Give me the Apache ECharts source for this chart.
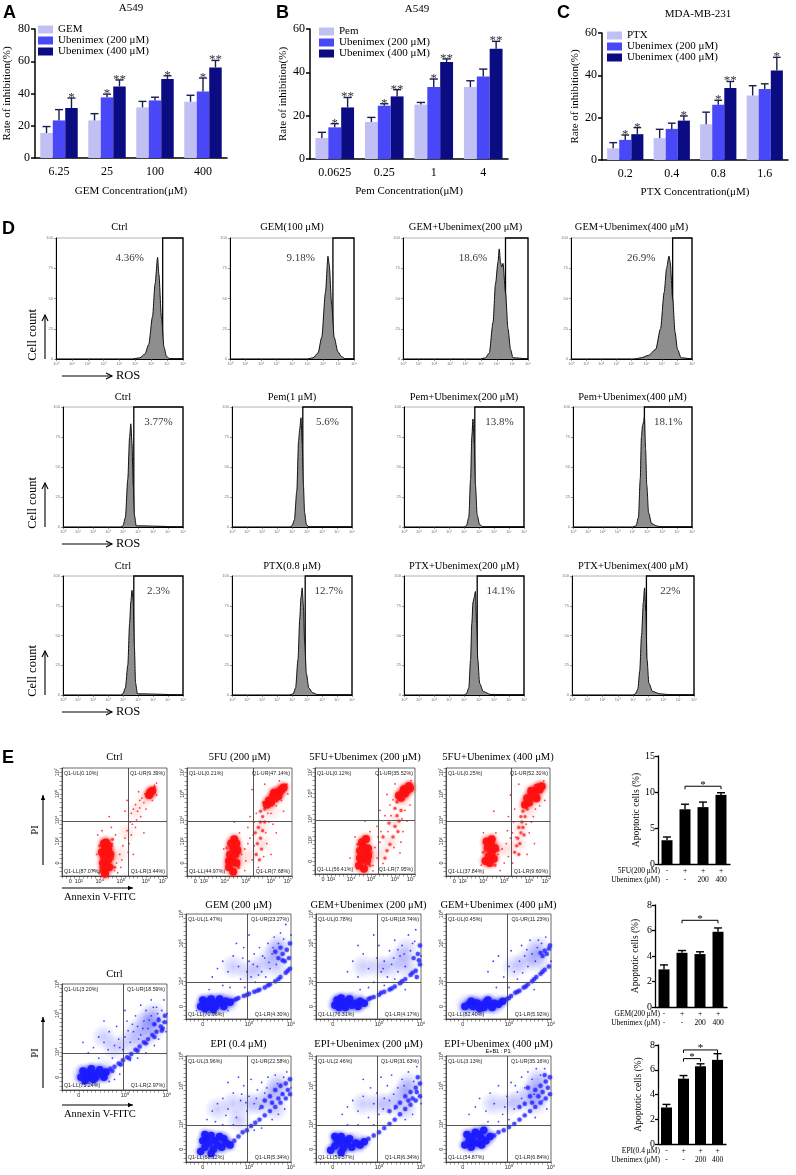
<!DOCTYPE html>
<html>
<head>
<meta charset="utf-8">
<script src="https://cdn.jsdelivr.net/npm/echarts@6.0.0/dist/echarts.min.js"></script>
<style>
  html, body { margin: 0; padding: 0; background: #fff; }
  #chart { width: 796px; height: 1175px; }
</style>
</head>
<body>
<div id="chart"></div>
<script>
// ---------- A / B / C : rate of inhibition ----------
const concA = ['6.25', '25', '100', '400'];
const gemA = [15.5, 23.3, 31.4, 34.9];
const gemAErr = [4, 4.2, 3.7, 4];
const ubx200A = [23.3, 37.6, 35.7, 41.3];
const ubx200AErr = [6.7, 2, 2, 8.3];
const ubx400A = [31, 44.4, 49, 56.2];
const ubx400AErr = [6.2, 4, 2, 4.3];
const starsA = [['', '', '*'], ['', '*', '**'], ['', '', '*'], ['', '*', '**']];

const concB = ['0.0625', '0.25', '1', '4'];
const pemB = [9.7, 17.1, 25.1, 33.2];
const pemBErr = [2.6, 2.1, 1, 2.9];
const ubx200B = [14.6, 24.6, 33.2, 38.1];
const ubx200BErr = [1.7, 0.9, 3.7, 3.4];
const ubx400B = [23.8, 28.9, 44.8, 50.9];
const ubx400BErr = [4.6, 3.1, 1.4, 3.4];
const starsB = [['', '*', '**'], ['', '*', '**'], ['', '*', '**'], ['', '', '**']];

const concC = ['0.2', '0.4', '0.8', '1.6'];
const ptxC = [5.5, 10.3, 16.9, 30.5];
const ptxCErr = [2.7, 4.2, 5.7, 4.6];
const ubx200C = [9.5, 14.7, 26.1, 33.5];
const ubx200CErr = [2.3, 2.7, 2.1, 2.5];
const ubx400C = [12.2, 18.6, 34, 42.3];
const ubx400CErr = [3.1, 2.2, 3.1, 6.2];
const starsC = [['', '*', '*'], ['', '', '*'], ['', '*', '**'], ['', '', '*']];

// ---------- D : ROS histograms (x: channel 0-100, y: % of box height) ----------
const rosTitles = [
  ['Ctrl', 'GEM(100 μM)', 'GEM+Ubenimex(200 μM)', 'GEM+Ubenimex(400 μM)'],
  ['Ctrl', 'Pem(1 μM)', 'Pem+Ubenimex(200 μM)', 'Pem+Ubenimex(400 μM)'],
  ['Ctrl', 'PTX(0.8 μM)', 'PTX+Ubenimex(200 μM)', 'PTX+Ubenimex(400 μM)']
];
const rosPct = [['4.36%', '9.18%', '18.6%', '26.9%'], ['3.77%', '5.6%', '13.8%', '18.1%'], ['2.3%', '12.7%', '14.1%', '22%']];
const rosGate = [[84, 83, 82, 84], [59, 59, 59, 60], [59, 61, 61, 61]];
const rosGemCtrl = [[0, 0], [60, 0], [66, 1], [70, 4], [73, 12], [76, 35], [78, 62], [80, 84], [81, 70], [83, 35], [85, 10], [87, 2], [90, 0], [100, 0]];
const rosGem = [[0, 0], [62, 0], [67, 1], [71, 5], [74, 18], [77, 55], [79, 85], [80, 78], [82, 45], [84, 18], [87, 6], [90, 2], [93, 0], [100, 0]];
const rosGemU200 = [[0, 0], [62, 0], [66, 1], [69, 5], [72, 30], [74, 62], [76, 80], [77, 91], [78, 80], [79, 76], [80, 79], [82, 55], [84, 25], [86, 8], [88, 1], [100, 0]];
const rosGemU400 = [[0, 0], [52, 0], [58, 1], [64, 3], [70, 8], [74, 25], [77, 55], [79, 75], [81, 85], [82, 80], [84, 50], [86, 22], [88, 8], [91, 1], [100, 0]];
const rosPemCtrl = [[0, 0], [48, 0], [50, 1], [52, 8], [54, 40], [55.5, 75], [56.5, 86], [57.5, 70], [58.5, 35], [59.5, 10], [61, 1], [100, 0]];
const rosPem = [[0, 0], [48, 0], [50, 1], [52, 6], [54, 30], [55.5, 72], [56.5, 82], [57.5, 91], [58.5, 70], [59.5, 35], [60.5, 12], [62, 2], [64, 0], [100, 0]];
const rosPemU200 = [[0, 0], [50, 0], [52, 1], [54, 8], [55.5, 40], [56.5, 75], [57.5, 90], [58.5, 70], [59.5, 35], [61, 10], [63, 2], [66, 0], [100, 0]];
const rosPemU400 = [[0, 0], [50, 0], [53, 1], [55, 8], [56.5, 40], [57.5, 75], [58.5, 85], [59.5, 88], [60, 92], [61, 65], [62, 35], [63.5, 12], [66, 3], [70, 1], [74, 0], [100, 0]];
const rosPtxCtrl = [[0, 0], [48, 0], [50, 1], [52, 6], [54, 25], [55.5, 60], [56.5, 78], [57.5, 88], [58.5, 80], [59.5, 40], [60.5, 10], [62, 1], [100, 0]];
const rosPtx = [[0, 0], [48, 0], [51, 1], [53, 6], [55, 30], [56.5, 65], [57.5, 82], [58.5, 90], [59.5, 75], [60.5, 45], [62, 18], [64, 6], [67, 2], [72, 0], [100, 0]];
const rosPtxU200 = [[0, 0], [50, 0], [52, 1], [54, 6], [55.5, 30], [56.5, 60], [57.5, 78], [58.5, 82], [59.5, 87], [60.5, 60], [61.5, 30], [63, 10], [66, 3], [72, 0.5], [100, 0]];
const rosPtxU400 = [[0, 0], [50, 0], [52, 1], [54, 5], [55.5, 20], [57, 50], [58.5, 78], [59.5, 90], [60.5, 70], [61.5, 30], [63, 10], [66, 3], [72, 1], [80, 0.3], [100, 0]];
const rosCurves = [[rosGemCtrl, rosGem, rosGemU200, rosGemU400], [rosPemCtrl, rosPem, rosPemU200, rosPemU400], [rosPtxCtrl, rosPtx, rosPtxU200, rosPtxU400]];

// ---------- E : Annexin V / PI dot plots (axis units 0-100) ----------
const redXTicks = [[8, '0'], [16, '10²'], [36, '10⁴'], [56, '10⁵'], [80, '10⁶'], [96, '10⁷']];
const redYTicks = [[12, '0'], [32, '10²'], [52, '10⁴'], [76, '10⁶'], [96, '10⁷']];
const blueXTicks = [[16, '0'], [60, '10⁵'], [100, '10⁶']];
const blueYTicks = [[12, '0'], [36, '10⁴'], [72, '10⁵'], [100, '10⁶']];
const redGate = [63, 51];
const blueGate = [58, 35];

const fuTitles = ['Ctrl', '5FU (200 μM)', '5FU+Ubenimex (200 μM)', '5FU+Ubenimex (400 μM)'];
const fuQuad = [[0.10, 9.39, 87.07, 3.44], [0.21, 47.14, 44.97, 7.68], [0.12, 35.52, 56.41, 7.95], [0.25, 52.31, 37.84, 9.60]];
const fuCtrlCore = [[40, 5], [42, 10], [44, 15], [40, 18], [43, 22], [41, 26], [44, 28], [39, 12], [45, 8], [42, 31], [38, 22], [46, 20], [41, 2], [44, 24], [40, 30], [84, 77], [86, 79], [83, 75]];
const fuCtrlMid = [[87, 80], [82, 74], [88, 82], [50, 8], [48, 16], [47, 28], [37, 8], [36, 28], [48, 34]];
const fuCtrlHaze = [[55, 20], [62, 40], [70, 60], [78, 70], [48, 15], [42, 18]];
const fuCtrlDots = [[50, 5], [52, 12], [48, 30], [55, 20], [58, 28], [60, 35], [62, 42], [65, 50], [66, 58], [68, 62], [70, 66], [72, 60], [74, 70], [76, 72], [78, 68], [80, 74], [82, 80], [88, 84], [90, 86], [75, 55], [70, 45], [64, 30], [56, 8], [34, 38], [38, 42], [47, 45], [62, 70], [86, 70], [68, 20], [78, 40], [30, 5], [35, 3], [90, 75], [73, 78], [60, 60], [45, 55], [80, 62], [66, 38], [71, 52], [63, 22], [53, 3], [57, 15], [67, 48], [74, 63], [79, 76], [84, 72], [33, 20], [51, 38]];
const fu5Core = [[40, 8], [43, 14], [46, 20], [44, 26], [41, 20], [47, 12], [42, 30], [45, 34], [48, 24], [44, 4], [40, 14], [47, 30], [78, 70], [82, 74], [86, 77], [90, 80], [84, 72], [80, 68], [88, 78], [92, 82], [76, 66], [83, 77], [87, 74]];
const fu5Mid = [[70, 60], [72, 55], [70, 50], [68, 45], [72, 42], [70, 35], [67, 30], [71, 25], [65, 40], [74, 62], [66, 20], [69, 15], [74, 50], [73, 68], [94, 84], [50, 22], [38, 26], [49, 8]];
const fu5Haze = [[70, 45], [72, 30], [80, 60], [60, 20], [85, 75], [52, 15], [44, 18]];
const fu5Dots = [[50, 10], [52, 20], [55, 25], [58, 30], [60, 35], [62, 15], [64, 50], [60, 55], [75, 40], [78, 50], [80, 58], [85, 65], [90, 70], [95, 85], [74, 85], [88, 88], [50, 40], [35, 25], [38, 10], [55, 5], [80, 20], [85, 40], [62, 80], [45, 50], [92, 60], [66, 58], [64, 28], [76, 30], [82, 48], [58, 45], [68, 8], [73, 18], [77, 58], [63, 38], [56, 14], [96, 76]];
const fu200Core = [[44, 8], [47, 14], [50, 20], [48, 26], [45, 22], [52, 12], [47, 30], [51, 33], [53, 24], [49, 5], [45, 15], [53, 17], [84, 74], [88, 77], [92, 79], [95, 81], [86, 72], [90, 76], [94, 83], [89, 80]];
const fu200Mid = [[80, 62], [82, 55], [84, 50], [80, 45], [83, 40], [78, 35], [75, 28], [72, 22], [70, 15], [86, 60], [68, 35], [74, 48], [82, 68], [56, 20], [43, 28], [55, 8]];
const fu200Haze = [[80, 50], [75, 30], [65, 20], [88, 70], [57, 15], [49, 18]];
const fu200Dots = [[58, 8], [62, 15], [60, 25], [65, 30], [66, 40], [62, 45], [70, 55], [75, 65], [78, 70], [72, 75], [90, 60], [88, 40], [92, 50], [55, 40], [40, 35], [42, 5], [58, 3], [85, 20], [95, 65], [96, 88], [80, 85], [65, 60], [50, 50], [35, 15], [76, 55], [86, 30], [68, 10], [73, 40], [79, 25], [63, 35], [87, 52]];
const fu400Core = [[38, 14], [41, 18], [44, 22], [40, 26], [43, 30], [46, 16], [42, 12], [47, 26], [39, 32], [44, 34], [78, 72], [82, 75], [86, 78], [90, 80], [80, 68], [84, 74], [88, 82], [76, 66], [92, 83], [82, 79], [87, 72]];
const fu400Mid = [[74, 60], [72, 55], [73, 50], [70, 45], [72, 40], [69, 35], [71, 30], [74, 45], [76, 55], [68, 28], [66, 22], [75, 38], [78, 62], [70, 20], [50, 24], [36, 22], [47, 10]];
const fu400Haze = [[72, 45], [70, 30], [80, 60], [60, 25], [86, 76], [50, 25], [42, 22]];
const fu400Dots = [[50, 20], [54, 25], [58, 30], [60, 18], [56, 12], [62, 35], [64, 40], [65, 50], [60, 55], [80, 40], [84, 55], [90, 65], [94, 88], [70, 85], [85, 30], [36, 40], [34, 10], [48, 40], [52, 5], [78, 20], [62, 75], [95, 70], [46, 60], [66, 62], [82, 50], [64, 12], [77, 48], [67, 36], [59, 42], [86, 62]];

const gemTitles = ['GEM (200 μM)', 'GEM+Ubenimex (200 μM)', 'GEM+Ubenimex (400 μM)'];
const gemQuad = [[1.47, 23.27, 70.96, 4.30], [0.78, 18.74, 76.31, 4.17], [0.45, 11.23, 82.40, 5.92]];
const ctrlQuad = [3.20, 18.59, 75.24, 2.97];
const epiTitles = ['EPI (0.4 μM)', 'EPI+Ubenimex (200 μM)', 'EPI+Ubenimex (400 μM)'];
const epiQuad = [[3.96, 22.58, 68.12, 5.34], [2.46, 31.63, 59.57, 6.34], [3.13, 35.16, 54.87, 6.84]];

const ctrlCore = [[18, 12], [22, 15], [26, 17], [30, 14], [34, 16], [24, 11], [28, 20], [32, 12], [38, 15], [20, 18], [36, 19], [42, 17], [22, 9], [30, 10], [40, 12], [26, 13]];
const ctrlMid = [[46, 20], [50, 22], [54, 25], [58, 28], [62, 31], [66, 34], [70, 38], [74, 41], [78, 45], [82, 48], [86, 52], [90, 55], [94, 60], [98, 64], [98, 70], [96, 58], [92, 66], [88, 62], [48, 18], [56, 24], [64, 30], [72, 37], [80, 44], [88, 50], [95, 56]];
const ctrlHaze = [[70, 55], [78, 62], [82, 68], [88, 72], [62, 45], [76, 48], [86, 55], [86, 62], [50, 40], [40, 50], [30, 15], [40, 18], [20, 14]];
const ctrlDots = [[30, 40], [35, 50], [40, 45], [45, 55], [50, 42], [52, 60], [48, 30], [55, 40], [60, 50], [62, 65], [65, 45], [68, 55], [70, 70], [72, 60], [75, 52], [78, 65], [80, 75], [82, 58], [85, 70], [88, 62], [90, 78], [92, 68], [95, 75], [97, 85], [85, 85], [75, 80], [60, 75], [40, 65], [25, 35], [20, 45], [58, 38], [65, 28], [72, 30], [80, 35], [88, 42], [92, 48], [55, 15], [50, 10], [45, 8], [35, 30], [100, 72], [99, 55], [67, 62], [77, 58], [83, 66], [91, 72], [96, 64], [73, 48], [63, 56], [87, 78], [44, 38], [54, 48]];
const gemCore = [[14, 12], [18, 15], [22, 17], [26, 14], [30, 16], [20, 11], [24, 19], [28, 12], [34, 15], [38, 17], [16, 18], [32, 19], [42, 16], [26, 9], [36, 12], [18, 10]];
const gemMid = [[46, 18], [50, 20], [55, 22], [60, 24], [65, 26], [70, 28], [75, 30], [80, 33], [85, 36], [90, 40], [95, 44], [99, 48], [88, 58], [92, 62], [96, 66], [99, 72], [85, 64], [94, 55], [98, 58], [90, 68], [48, 19], [58, 23], [68, 27], [78, 32], [88, 38], [97, 46], [92, 56]];
const gemHaze = [[70, 50], [80, 58], [86, 65], [88, 70], [60, 45], [45, 50], [86, 50], [30, 15], [20, 14], [40, 16]];
const gemDots = [[25, 40], [30, 48], [35, 55], [40, 45], [45, 60], [50, 50], [52, 38], [55, 68], [58, 45], [60, 55], [62, 40], [65, 62], [68, 50], [70, 68], [72, 45], [75, 58], [78, 72], [80, 48], [82, 62], [84, 78], [86, 52], [90, 82], [95, 90], [76, 40], [66, 35], [56, 30], [42, 30], [35, 32], [60, 80], [48, 72], [22, 28], [10, 8], [40, 8], [100, 80], [73, 60], [83, 68], [93, 76], [64, 52], [54, 58], [88, 72], [79, 54], [69, 42]];
const gem200Core = [[18, 13], [22, 16], [26, 14], [30, 17], [34, 13], [20, 18], [28, 11], [38, 15], [42, 17], [24, 20], [32, 19], [46, 15], [40, 12], [22, 11]];
const gem200Mid = [[50, 19], [55, 21], [60, 23], [65, 26], [70, 28], [75, 31], [80, 34], [85, 38], [90, 42], [95, 46], [99, 52], [97, 62], [99, 70], [93, 58], [96, 40], [52, 20], [62, 25], [72, 29], [82, 36], [92, 44], [98, 56]];
const gem200Haze = [[70, 50], [80, 58], [86, 66], [60, 50], [45, 50], [86, 50], [30, 15], [38, 16], [22, 14]];
const gem200Dots = [[30, 45], [35, 55], [40, 40], [45, 62], [50, 48], [55, 35], [58, 58], [60, 70], [62, 45], [65, 55], [68, 40], [70, 65], [72, 52], [75, 75], [78, 45], [80, 60], [82, 70], [85, 50], [88, 80], [90, 65], [92, 72], [95, 85], [50, 30], [42, 28], [65, 32], [75, 38], [85, 28], [40, 70], [55, 80], [100, 60], [74, 58], [84, 62], [94, 74], [64, 48], [78, 66]];
const gem400Core = [[18, 12], [22, 14], [26, 12], [30, 15], [34, 13], [38, 16], [42, 13], [46, 15], [50, 14], [24, 17], [32, 10], [40, 18], [54, 17], [28, 15], [36, 11], [44, 11]];
const gem400Mid = [[58, 19], [62, 22], [66, 25], [70, 27], [74, 30], [78, 33], [82, 36], [86, 40], [90, 43], [94, 47], [98, 50], [90, 63], [94, 65], [98, 67], [99, 70], [92, 60], [60, 20], [68, 26], [76, 31], [84, 38], [92, 45], [96, 62]];
const gem400Haze = [[75, 55], [84, 62], [88, 68], [65, 50], [88, 55], [30, 14], [45, 14], [20, 13]];
const gem400Dots = [[40, 45], [45, 55], [50, 60], [55, 40], [60, 50], [62, 65], [65, 45], [70, 55], [72, 70], [75, 60], [78, 50], [80, 75], [82, 62], [85, 55], [88, 75], [95, 78], [68, 38], [48, 30], [84, 28], [60, 30], [100, 55], [77, 66], [87, 68], [73, 44], [91, 72]];
const epiCore = [[14, 10], [18, 14], [22, 18], [26, 12], [30, 16], [20, 22], [24, 25], [28, 20], [16, 20], [34, 14], [38, 18], [32, 24], [42, 16], [24, 8], [18, 26], [36, 22]];
const epiMid = [[46, 20], [50, 24], [54, 28], [58, 30], [62, 34], [66, 37], [70, 40], [75, 44], [80, 48], [85, 52], [90, 56], [95, 60], [99, 64], [80, 62], [85, 68], [90, 72], [95, 74], [99, 78], [75, 58], [88, 60], [97, 68], [82, 56], [92, 64], [72, 52]];
const epiHaze = [[70, 55], [80, 62], [86, 68], [88, 74], [60, 55], [45, 55], [30, 50], [85, 50], [25, 16], [35, 18], [50, 40]];
const epiDots = [[20, 40], [25, 48], [30, 55], [35, 60], [40, 50], [45, 65], [48, 42], [52, 58], [55, 72], [58, 48], [60, 62], [62, 78], [65, 55], [68, 68], [70, 50], [72, 75], [75, 65], [78, 80], [82, 55], [85, 82], [88, 45], [92, 65], [96, 85], [45, 35], [35, 35], [28, 38], [50, 80], [40, 75], [65, 30], [72, 32], [82, 40], [94, 50], [100, 70], [77, 70], [87, 74], [67, 60], [57, 56], [93, 80], [38, 44], [53, 64]];
const epi200Core = [[14, 11], [18, 15], [22, 18], [26, 13], [30, 17], [20, 21], [24, 24], [28, 20], [34, 14], [38, 18], [32, 22], [42, 16], [46, 19], [18, 24], [24, 9]];
const epi200Mid = [[50, 22], [55, 25], [60, 28], [65, 32], [70, 36], [75, 40], [80, 45], [85, 50], [90, 54], [95, 58], [99, 62], [85, 62], [90, 66], [95, 70], [99, 74], [80, 56], [92, 60], [97, 80], [70, 48], [88, 58], [96, 66], [76, 52]];
const epi200Haze = [[70, 55], [80, 62], [86, 68], [88, 74], [60, 55], [45, 55], [85, 50], [25, 16], [38, 18]];
const epi200Dots = [[25, 45], [30, 52], [35, 58], [40, 48], [45, 62], [50, 42], [52, 70], [55, 55], [58, 65], [60, 45], [62, 80], [65, 60], [68, 72], [70, 58], [72, 82], [75, 50], [78, 70], [82, 78], [85, 40], [88, 85], [92, 45], [96, 90], [40, 35], [55, 35], [45, 78], [30, 35], [100, 55], [74, 64], [84, 72], [64, 50], [93, 76]];
const epi400Core = [[18, 16], [22, 20], [26, 24], [30, 18], [34, 22], [24, 14], [28, 28], [32, 26], [20, 26], [38, 20], [42, 24], [36, 30], [26, 18], [34, 16]];
const epi400Mid = [[46, 25], [50, 28], [55, 30], [60, 33], [65, 36], [70, 40], [75, 44], [80, 48], [85, 52], [90, 56], [95, 60], [99, 64], [75, 55], [80, 62], [85, 68], [90, 72], [95, 76], [99, 80], [88, 62], [92, 66], [97, 70], [70, 52], [82, 56], [94, 82], [78, 70]];
const epi400Haze = [[70, 58], [80, 65], [86, 72], [88, 78], [60, 55], [45, 55], [85, 55], [88, 62], [26, 22], [36, 24]];
const epi400Dots = [[22, 45], [28, 52], [32, 60], [38, 48], [42, 65], [46, 55], [50, 72], [54, 45], [58, 62], [62, 75], [65, 50], [68, 66], [72, 80], [75, 70], [78, 85], [82, 78], [86, 88], [90, 82], [94, 88], [60, 40], [50, 38], [40, 38], [96, 50], [85, 42], [72, 60], [66, 72], [84, 64], [56, 52], [92, 58]];

// ---------- E : apoptotic cells ----------
const apoDrugRow = ['-', '+', '+', '+'];
const apoUbxRow = ['-', '-', '200', '400'];
const apoFu = [3.3, 7.6, 7.9, 9.6];
const apoFuErr = [0.45, 0.7, 0.7, 0.3];
const apoFuBrackets = [[1, 3, 10.8]];
const apoGem = [2.95, 4.25, 4.15, 5.9];
const apoGemErr = [0.35, 0.18, 0.18, 0.3];
const apoGemBrackets = [[1, 3, 6.8]];
const apoEpi = [2.95, 5.28, 6.28, 6.8];
const apoEpiErr = [0.25, 0.25, 0.2, 0.5];
const apoEpiBrackets = [[1, 2, 6.9], [1, 3, 7.6]];

// ---------- build ----------
const SERIF = '"Liberation Serif", "Times New Roman", serif';
const SANS = '"Liberation Sans", Arial, sans-serif';
const barColors = ['#c0c0f4', '#4848f8', '#0c0c82'];
const grids = [], xAxes = [], yAxes = [], series = [], legends = [], graphics = [];

function addGrid(left, top, width, height, extra) {
  grids.push(Object.assign({ left, top, width, height }, extra || {}));
  return grids.length - 1;
}
function txt(x, y, text, size, opts) {
  const o = opts || {};
  graphics.push({
    type: 'text', x, y, rotation: o.rot || 0, z: 100,
    style: {
      text, fontSize: size, fontFamily: o.font || SERIF, fontWeight: o.weight || 'normal',
      fill: o.color || '#000', align: o.align || 'center', verticalAlign: o.va || 'middle'
    }
  });
}
function arrow(x1, y1, x2, y2, filled) {
  const a = Math.atan2(y2 - y1, x2 - x1), L = filled ? 5 : 6, W = filled ? 2.2 : 3;
  const p1 = [x2 - L * Math.cos(a) + W * Math.sin(a), y2 - L * Math.sin(a) - W * Math.cos(a)];
  const p2 = [x2 - L * Math.cos(a) - W * Math.sin(a), y2 - L * Math.sin(a) + W * Math.cos(a)];
  graphics.push({ type: 'line', shape: { x1, y1, x2, y2 }, style: { stroke: '#000', lineWidth: 1.1 } });
  if (filled) graphics.push({ type: 'polygon', shape: { points: [p1, [x2, y2], p2] }, style: { fill: '#000' } });
  else graphics.push({ type: 'polyline', shape: { points: [p1, [x2, y2], p2] }, style: { stroke: '#000', lineWidth: 1.1, fill: null } });
}

function errorBars(g, vals, errs, stars, s, n, gap, color, capHalf) {
  series.push({
    type: 'custom', xAxisIndex: g, yAxisIndex: g, z: 5, silent: true,
    data: vals.map((v, i) => [i, v, errs[i]]),
    renderItem: (params, api) => {
      const i = api.value(0), v = api.value(1), e = api.value(2);
      const band = api.size([1, 0])[0];
      const used = band * (1 - gap);
      const bw = used / n;
      const cx = api.coord([i, 0])[0] - used / 2 + bw * (s + 0.5);
      const yb = api.coord([i, v])[1], yt = api.coord([i, v + e])[1];
      const cap = capHalf || bw * 0.32;
      const kids = [
        { type: 'line', shape: { x1: cx, y1: yb, x2: cx, y2: yt }, style: { stroke: color, lineWidth: 1.4 } },
        { type: 'line', shape: { x1: cx - cap, y1: yt, x2: cx + cap, y2: yt }, style: { stroke: color, lineWidth: 1.4 } }
      ];
      const st = stars ? stars[params.dataIndex][s] : '';
      if (st) kids.push({ type: 'text', x: cx, y: yt + 6, style: { text: st, fontFamily: SERIF, fontSize: 13, fill: '#333', align: 'center', verticalAlign: 'bottom' } });
      return { type: 'group', children: kids };
    }
  });
}

function inhibitionPanel(p) {
  const g = addGrid(p.rect[0], p.rect[1], p.rect[2], p.rect[3]);
  xAxes.push({
    gridIndex: g, type: 'category', data: p.cats,
    axisLine: { lineStyle: { color: '#000', width: 1.5 } }, axisTick: { show: false },
    axisLabel: { color: '#000', fontFamily: SERIF, fontSize: 12, margin: 8 },
    name: p.xName, nameLocation: 'middle', nameGap: p.xGap,
    nameTextStyle: { color: '#000', fontFamily: SERIF, fontSize: 11 }
  });
  yAxes.push({
    gridIndex: g, type: 'value', min: 0, max: p.max, interval: 20, splitLine: { show: false },
    axisLine: { show: true, lineStyle: { color: '#000', width: 1.5 } },
    axisTick: { show: true, length: 4, lineStyle: { color: '#000', width: 1.5 } },
    axisLabel: { color: '#000', fontFamily: SERIF, fontSize: 12, margin: 5 },
    name: 'Rate of inhibition(%)', nameLocation: 'middle', nameGap: p.yGap,
    nameTextStyle: { color: '#000', fontFamily: SERIF, fontSize: 11 }
  });
  const names = [p.drug, 'Ubenimex (200 μM)', 'Ubenimex (400 μM)'];
  p.vals.forEach((v, s) => {
    series.push({
      type: 'bar', name: names[s], xAxisIndex: g, yAxisIndex: g, data: v,
      barGap: '0%', barCategoryGap: '22%', itemStyle: { color: barColors[s] }, z: 2
    });
  });
  p.vals.forEach((v, s) => errorBars(g, v, p.errs[s], p.stars, s, 3, 0.22, '#1c1c50'));
  legends.push({
    left: p.legend[0], top: p.legend[1], orient: 'vertical', itemGap: 0, itemWidth: 15, itemHeight: 8,
    icon: 'rect', selectedMode: false, padding: 0, data: names,
    textStyle: { color: '#000', fontFamily: SERIF, fontSize: 11, padding: [0, 0, 0, 0] }
  });
  txt(p.title[0], p.title[1], p.title[2], 11);
}

inhibitionPanel({
  rect: [35, 29, 192, 129], cats: concA, max: 80, drug: 'GEM',
  vals: [gemA, ubx200A, ubx400A], errs: [gemAErr, ubx200AErr, ubx400AErr], stars: starsA,
  xName: 'GEM Concentration(μM)', xGap: 28, yGap: 22, legend: [38, 24], title: [131, 8, 'A549']
});
inhibitionPanel({
  rect: [310, 29, 198, 130], cats: concB, max: 60, drug: 'Pem',
  vals: [pemB, ubx200B, ubx400B], errs: [pemBErr, ubx200BErr, ubx400BErr], stars: starsB,
  xName: 'Pem Concentration(μM)', xGap: 27, yGap: 14, legend: [319, 26], title: [417, 9, 'A549']
});
inhibitionPanel({
  rect: [602, 33, 186, 127], cats: concC, max: 60, drug: 'PTX',
  vals: [ptxC, ubx200C, ubx400C], errs: [ptxCErr, ubx200CErr, ubx400CErr], stars: starsC,
  xName: 'PTX Concentration(μM)', xGap: 27, yGap: 19, legend: [607, 30], title: [698, 14, 'MDA-MB-231']
});

// D histograms
const sup = ['⁰', '¹', '²', '³', '⁴', '⁵', '⁶', '⁷', '⁸'];
const rosRows = [
  { top: 238, h: 121, titleY: 227, cols: [[56, 127], [230, 124], [403, 125], [571, 121]] },
  { top: 407, h: 120, titleY: 397, cols: [[63, 120], [232, 120], [404, 120], [573, 119]] },
  { top: 576, h: 119, titleY: 566, cols: [[63, 120], [232, 120], [404, 120], [572, 122]] }
];
rosRows.forEach((row, r) => {
  row.cols.forEach((c, k) => {
    const g = addGrid(c[0], row.top, c[1], row.h, { show: true, borderColor: '#a0a0a0', borderWidth: 0.8 });
    xAxes.push({
      gridIndex: g, type: 'value', min: 0, max: 100, interval: 12.5, splitLine: { show: false },
      axisLine: { lineStyle: { color: '#000', width: 1.1 } },
      axisTick: { length: 2, lineStyle: { color: '#555', width: 0.6 } },
      axisLabel: { fontSize: 4, color: '#777', margin: 3, formatter: (v) => '10' + sup[Math.round(v / 12.5)] }
    });
    yAxes.push({
      gridIndex: g, type: 'value', min: 0, max: 100, interval: 25, splitLine: { show: false },
      axisLine: { show: true, lineStyle: { color: '#000', width: 1 } },
      axisTick: { show: true, length: 2, lineStyle: { color: '#555', width: 0.6 } },
      axisLabel: { fontSize: 4, color: '#777', margin: 3 }
    });
    const gate = rosGate[r][k];
    series.push({
      type: 'line', xAxisIndex: g, yAxisIndex: g, data: rosCurves[r][k], smooth: 0.25,
      smoothMonotone: 'x', symbol: 'none', silent: true,
      lineStyle: { color: '#111', width: 1 }, areaStyle: { color: '#8e8e8e', opacity: 1 },
      markArea: {
        silent: true, itemStyle: { color: 'rgba(0,0,0,0)', borderColor: '#000', borderWidth: 1.3 },
        data: [[{ xAxis: gate, yAxis: 0 }, { xAxis: 100, yAxis: 100 }]]
      }
    });
    const lx = r === 0 ? gate - 26 : (gate + 100) / 2;
    const ly = r === 0 ? 83 : 87;
    series.push({
      type: 'scatter', xAxisIndex: g, yAxisIndex: g, data: [[lx, ly]], symbolSize: 1, silent: true,
      itemStyle: { color: 'rgba(0,0,0,0)' },
      label: { show: true, position: 'inside', formatter: rosPct[r][k], fontFamily: SERIF, fontSize: 11, color: '#000' }
    });
    txt(c[0] + c[1] / 2, row.titleY, rosTitles[r][k], 10.5);
  });
  const bottom = row.top + row.h;
  txt(33, bottom - 24, 'Cell count', 12.5, { rot: Math.PI / 2 });
  arrow(45, bottom, 45, bottom - 44, false);
  arrow(62, bottom + 17, 112, bottom + 17, false);
  txt(116, bottom + 17, 'ROS', 12.5, { align: 'left' });
});

// E dot plots
function tickMap(list) { const m = {}; list.forEach(t => { m[t[0]] = t[1]; }); return m; }
const redX = tickMap(redXTicks), redY = tickMap(redYTicks), blueX = tickMap(blueXTicks), blueY = tickMap(blueYTicks);

function softFill(rgb, alpha) {
  return {
    type: 'radial', x: 0.5, y: 0.5, r: 0.5,
    colorStops: [
      { offset: 0, color: 'rgba(' + rgb + ',' + alpha + ')' },
      { offset: 0.55, color: 'rgba(' + rgb + ',' + (alpha * 0.5) + ')' },
      { offset: 1, color: 'rgba(' + rgb + ',0)' }
    ]
  };
}

function flowPanel(rect, title, titleY, layers, quad, red) {
  const [l, t, w, h] = rect;
  const [core, mid, haze, dots] = layers;
  const g = addGrid(l, t, w, h, { show: true, borderColor: '#444', borderWidth: 0.8 });
  const xm = red ? redX : blueX, ym = red ? redY : blueY, gate = red ? redGate : blueGate;
  const color = red ? '#ff1010' : '#1a1aff';
  const rgb = red ? '255,16,16' : '26,26,255';
  xAxes.push({
    gridIndex: g, type: 'value', min: 0, max: 100, interval: 4, splitLine: { show: false },
    axisLine: { lineStyle: { color: '#333', width: 0.8 } },
    axisTick: { length: 2.5, lineStyle: { color: '#333', width: 0.5 } },
    axisLabel: { fontSize: 5.5, color: '#222', margin: 2, formatter: v => xm[v] || '' }
  });
  yAxes.push({
    gridIndex: g, type: 'value', min: 0, max: 100, interval: 4, splitLine: { show: false },
    axisLine: { show: true, lineStyle: { color: '#333', width: 0.8 } },
    axisTick: { show: true, length: 2.5, lineStyle: { color: '#333', width: 0.5 } },
    axisLabel: { fontSize: 5.5, color: '#222', margin: 2, rotate: 90, formatter: v => ym[v] || '' }
  });
  series.push({ type: 'scatter', xAxisIndex: g, yAxisIndex: g, data: haze, symbolSize: red ? 20 : 26, silent: true,
    itemStyle: { color: softFill(rgb, red ? 0.16 : 0.28) } });
  series.push({ type: 'scatter', xAxisIndex: g, yAxisIndex: g, data: dots, symbolSize: 1.8, silent: true, itemStyle: { color, opacity: 0.8 },
    markLine: { silent: true, symbol: ['none', 'none'], label: { show: false }, lineStyle: { color: '#444', width: 0.9, type: 'solid' },
      data: [{ xAxis: gate[0] }, { yAxis: gate[1] }] } });
  series.push({ type: 'scatter', xAxisIndex: g, yAxisIndex: g, data: mid, symbolSize: red ? 3.2 : 4.4, silent: true,
    itemStyle: { color, opacity: 0.6, shadowBlur: 2, shadowColor: color } });
  series.push({ type: 'scatter', xAxisIndex: g, yAxisIndex: g, data: core, symbolSize: red ? 8 : 7.5, silent: true,
    itemStyle: { color, opacity: 0.95, shadowBlur: 4, shadowColor: color } });
  const q = quad.map(v => v.toFixed(2) + '%');
  const qo = { font: SANS, color: '#222' };
  txt(l + 2, t + 3, 'Q1-UL(' + q[0] + ')', 5.3, Object.assign({ align: 'left', va: 'top' }, qo));
  txt(l + w - 2, t + 3, 'Q1-UR(' + q[1] + ')', 5.3, Object.assign({ align: 'right', va: 'top' }, qo));
  txt(l + 2, t + h - 2, 'Q1-LL(' + q[2] + ')', 5.3, Object.assign({ align: 'left', va: 'bottom' }, qo));
  txt(l + w - 2, t + h - 2, 'Q1-LR(' + q[3] + ')', 5.3, Object.assign({ align: 'right', va: 'bottom' }, qo));
  txt(l + w / 2, titleY, title, 10.5);
}

const redRects = [[62, 768, 105, 108], [187, 768, 105, 108], [315, 768, 100, 106], [446, 768, 104, 108]];
const redData = [
  [fuCtrlCore, fuCtrlMid, fuCtrlHaze, fuCtrlDots], [fu5Core, fu5Mid, fu5Haze, fu5Dots],
  [fu200Core, fu200Mid, fu200Haze, fu200Dots], [fu400Core, fu400Mid, fu400Haze, fu400Dots]
];
redRects.forEach((rc, i) => flowPanel(rc, fuTitles[i], 757, redData[i], fuQuad[i], true));

const blueCols = [[186, 105], [316, 105], [446, 105]];
const gemData = [[gemCore, gemMid, gemHaze, gemDots], [gem200Core, gem200Mid, gem200Haze, gem200Dots], [gem400Core, gem400Mid, gem400Haze, gem400Dots]];
const epiData = [[epiCore, epiMid, epiHaze, epiDots], [epi200Core, epi200Mid, epi200Haze, epi200Dots], [epi400Core, epi400Mid, epi400Haze, epi400Dots]];
blueCols.forEach((c, i) => {
  flowPanel([c[0], 914, c[1], 105], gemTitles[i], 905, gemData[i], gemQuad[i], false);
  flowPanel([c[0], 1056, c[1], 106], epiTitles[i], 1044, epiData[i], epiQuad[i], false);
});
flowPanel([62, 984, 105, 106], 'Ctrl', 974, [ctrlCore, ctrlMid, ctrlHaze, ctrlDots], ctrlQuad, false);
txt(498, 1051, 'E+B1 : P1', 5.5, { font: SANS });

// PI / Annexin axes captions
[[865, 795, 830, 888], [1088, 1017, 1053, 1105]].forEach(a => {
  arrow(43, a[0], 43, a[1], true);
  txt(35, a[2], 'PI', 10.5, { rot: Math.PI / 2 });
  arrow(62, a[3], 133, a[3], true);
  txt(64, a[3] + 9, 'Annexin V-FITC', 10.5, { align: 'left' });
});

// E apoptosis bars
function apoPanel(rect, vals, errs, brackets, max, interval, drugLabel) {
  const [l, t, w, h] = rect;
  const g = addGrid(l, t, w, h);
  xAxes.push({
    gridIndex: g, type: 'category', data: apoDrugRow.map((d, i) => d + '\n' + apoUbxRow[i]),
    axisLine: { lineStyle: { color: '#000', width: 1.3 } }, axisTick: { show: false },
    axisLabel: { interval: 0, fontFamily: SERIF, fontSize: 7.5, lineHeight: 8.5, color: '#000', margin: 3 }
  });
  yAxes.push({
    gridIndex: g, type: 'value', min: 0, max, interval, splitLine: { show: false },
    axisLine: { show: true, lineStyle: { color: '#000', width: 1.3 } },
    axisTick: { show: true, length: 3, lineStyle: { color: '#000', width: 1.3 } },
    axisLabel: { fontFamily: SERIF, fontSize: 10, color: '#000', margin: 3 },
    name: 'Apoptotic cells (%)', nameLocation: 'middle', nameGap: 15,
    nameTextStyle: { fontFamily: SERIF, fontSize: 9.5, color: '#000' }
  });
  series.push({ type: 'bar', xAxisIndex: g, yAxisIndex: g, data: vals, barWidth: 11, itemStyle: { color: '#000' }, silent: true });
  errorBars(g, vals, errs, null, 0, 1, 0, '#000', 4);
  series.push({
    type: 'custom', xAxisIndex: g, yAxisIndex: g, data: brackets, silent: true, z: 6,
    renderItem: (params, api) => {
      const a = api.coord([api.value(0), api.value(2)]), b = api.coord([api.value(1), api.value(2)]);
      return {
        type: 'group', children: [
          { type: 'polyline', shape: { points: [[a[0], a[1] + 3], [a[0], a[1]], [b[0], b[1]], [b[0], b[1] + 3]] }, style: { stroke: '#000', lineWidth: 1, fill: null } },
          { type: 'text', x: (a[0] + b[0]) / 2, y: a[1] + 4, style: { text: '*', fontFamily: SERIF, fontSize: 11, fill: '#000', align: 'center', verticalAlign: 'bottom' } }
        ]
      };
    }
  });
  txt(660, t + h + 7.5, drugLabel, 7.5, { align: 'right' });
  txt(660, t + h + 16, 'Ubenimex (μM)', 7.5, { align: 'right' });
}
apoPanel([658, 756, 72, 108], apoFu, apoFuErr, apoFuBrackets, 15, 5, '5FU(200 μM)');
apoPanel([655, 905, 72, 102], apoGem, apoGemErr, apoGemBrackets, 8, 2, 'GEM(200 μM)');
apoPanel([658, 1045, 68, 99], apoEpi, apoEpiErr, apoEpiBrackets, 8, 2, 'EPI(0.4 μM)');

// panel letters
[['A', 3, 13], ['B', 276, 13], ['C', 557, 13], ['D', 2, 229], ['E', 2, 758]].forEach(L => {
  txt(L[1], L[2], L[0], 18, { font: SANS, weight: 'bold', align: 'left' });
});

const chart = echarts.init(document.getElementById('chart'));
chart.setOption({
  animation: false,
  backgroundColor: '#fff',
  grid: grids,
  xAxis: xAxes,
  yAxis: yAxes,
  legend: legends,
  series: series,
  graphic: { elements: graphics }
});
</script>
</body>
</html>
